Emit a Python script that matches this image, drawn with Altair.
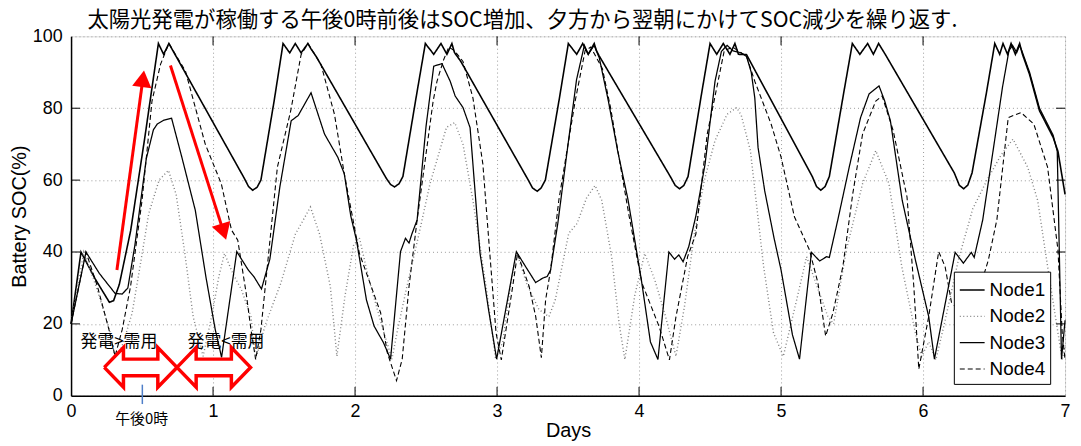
import altair as alt
import pandas as pd

# ---------------- data (day, SOC %) ----------------
NODES = ["Node1", "Node2", "Node3", "Node4"]

node1 = [(0,20),(0.07,40),(0.17,32.5),(0.27,26),(0.30,26.5),(0.34,31),(0.42,46),(0.52,72),(0.615,98),(0.652,95),(0.689,98),
         (1.22,60.5),(1.25,58.2),(1.279,57.2),(1.31,58),(1.337,60),(1.43,82),(1.493,98),(1.54,95.4),(1.579,98),(1.62,95.4),(1.668,98),(1.69,96.5),(1.726,94.4),
         (2.22,60.5),(2.25,58.8),(2.278,58.1),(2.31,59),(2.337,61),(2.43,83),(2.495,98),(2.554,95),(2.605,98),(2.647,95),(2.682,98),(2.70,95.5),(2.745,93),
         (3.22,60),(3.25,57.8),(3.283,56.9),(3.31,57.8),(3.34,60),(3.44,83),(3.502,98),(3.561,95),(3.603,98),(3.642,95),(3.684,98),(3.70,96),(3.72,94.5),
         (4.22,61),(4.255,58.5),(4.285,57.6),(4.315,58.5),(4.345,61),(4.44,84),(4.5,98),(4.547,95),(4.593,98),(4.64,95),(4.675,98),(4.70,95),(4.757,94.9),
         (5.22,61),(5.25,58.2),(5.28,57.2),(5.31,58.2),(5.34,61),(5.44,84),(5.502,98),(5.555,95),(5.61,98),(5.65,95),(5.687,98),(5.735,94.9),
         (6.22,62),(6.255,58.6),(6.286,57.6),(6.315,58.6),(6.345,62),(6.445,84),(6.505,98),(6.54,95),(6.563,98),(6.595,95),(6.62,98),(6.65,95),(6.68,98),(6.70,95),
         (6.75,89.4),(6.82,79.3),(6.916,71.9),(6.95,68),(7.0,56)]

node2 = [(0,20),(0.09,40),(0.18,30),(0.27,18.5),(0.316,9.5),(0.37,15),(0.43,23),(0.49,37),(0.547,50.7),(0.62,60),(0.686,62.7),(0.74,56),(0.80,40),(0.86,22),(0.93,11),
         (0.99,22),(1.04,33),(1.08,39.6),(1.14,34),(1.2,29.5),(1.267,22),(1.30,10.2),(1.37,20),(1.477,31.3),(1.58,45),(1.686,52.5),(1.75,45),(1.826,30.4),(1.872,11),
         (1.93,28),(1.99,42),(2.03,44),(2.1,32),(2.2,18),(2.26,10.2),(2.295,17.5),(2.365,30.4),(2.45,45),(2.528,59),(2.644,74.7),(2.702,76),(2.76,70),(2.83,54.4),(2.923,30.4),(2.99,10.2),
         (3.04,15),(3.10,32),(3.14,39.7),(3.21,31),(3.295,24),(3.365,22),(3.41,26.7),(3.505,45.2),(3.563,47.9),(3.63,55),(3.69,58.5),(3.737,54.4),(3.807,38.7),(3.86,20),(3.9,10.1),
         (3.97,28),(4.04,39.6),(4.11,32.3),(4.18,23),(4.26,11),(4.32,24.9),(4.39,45.2),(4.46,60),(4.535,71),(4.62,78.3),(4.687,80.2),(4.72,78),(4.784,68.2),(4.877,36),(4.947,17.5),(5.016,11),
         (5.11,26.7),(5.18,38.7),(5.27,28.6),(5.33,22),(5.37,20),(5.46,40.6),(5.574,59),(5.667,68.2),(5.76,59),(5.85,36),(5.946,17.5),(5.99,11),
         (6.04,15),(6.09,10),(6.15,20),(6.25,38),(6.35,52),(6.45,60),(6.55,67),(6.633,71.4),(6.737,63.6),(6.807,54.4),(6.877,36),(6.95,17.5),(6.98,10),(7.0,14)]

node3 = [(0,20),(0.105,40),(0.2,34),(0.31,28.5),(0.36,28.3),(0.40,30),(0.45,42),(0.53,66),(0.58,74),(0.607,75.6),(0.654,76.7),(0.708,77.2),(0.78,66.4),(0.875,51.6),(0.95,33),(1.015,18.5),(1.06,10.7),
         (1.167,40.1),(1.248,35),(1.29,33),(1.341,29.7),(1.40,38),(1.47,58),(1.55,76.5),(1.60,78),(1.69,84.3),(1.785,72.8),(1.878,66.4),(1.924,61.8),(1.97,50),(2.01,43.3),(2.08,26.7),(2.134,19.4),(2.2,14.8),(2.25,10.2),
         (2.32,40.1),(2.355,43.8),(2.38,42.5),(2.40,45),(2.437,48.9),(2.50,75),(2.554,91.7),(2.612,92.4),(2.67,87.5),(2.705,83.4),(2.76,80.2),(2.81,74.6),(2.857,50.8),(2.88,39.7),(2.94,24),(2.997,10.2),
         (3.136,40.1),(3.20,36),(3.272,31.5),(3.32,32.7),(3.353,33.2),(3.377,35),(3.428,48),(3.50,70),(3.56,88),(3.615,97.5),(3.642,95),(3.684,97.5),(3.72,94),(3.784,82),(3.85,68),(3.923,54.4),(4.016,32.3),(4.08,15),(4.133,10.1),
         (4.21,40),(4.25,38),(4.28,39.2),(4.31,37.3),(4.35,41.5),(4.40,50),(4.465,64.5),(4.535,87.5),(4.58,95.8),(4.62,97.5),(4.66,96),(4.72,95.4),(4.757,94.4),(4.79,90),(4.815,82.9),(4.838,69.1),(4.885,57),(4.95,44),(5.0,35),(5.08,17),(5.13,10.2),
         (5.214,39.9),(5.272,37.5),(5.32,38.7),(5.34,38.5),(5.40,49),(5.48,63.6),(5.56,77.4),(5.62,84),(5.69,86.2),(5.73,82),(5.77,76.5),(5.853,54.4),(5.946,37.8),(6.04,22),(6.08,10.2),
         (6.226,39.9),(6.284,36.9),(6.34,39.9),(6.36,38.5),(6.42,48.9),(6.50,70),(6.56,86),(6.605,96),(6.63,97.5),(6.66,95.5),(6.68,97.5),(6.70,95.5),(6.75,90),(6.82,80),(6.916,72.5),(6.945,68),(6.975,10.2),(7.0,21)]

node4 = [(0,20),(0.105,40),(0.186,30.4),(0.267,18.4),(0.31,11),(0.36,18.4),(0.419,30.4),(0.5,54.4),(0.57,82),(0.63,92.2),(0.689,98),(0.72,96),(0.806,90.3),(0.945,70),(1.058,59),(1.13,46.1),(1.174,43.3),(1.233,28.6),(1.267,18.4),(1.30,10.1),
         (1.337,18.4),(1.453,63.6),(1.547,79.3),(1.62,94.9),(1.668,98),(1.70,96),(1.76,92.2),(1.855,78.3),(1.924,61.8),(2.03,39.7),(2.18,23.1),(2.227,12),(2.292,4.2),
         (2.332,10.2),(2.38,30.4),(2.437,48.9),(2.55,82),(2.577,87.5),(2.624,93.5),(2.66,97),(2.70,96),(2.76,93),(2.83,82.9),(2.9,64.5),(2.947,40.6),(2.993,17.5),(3.03,10),
         (3.11,30.4),(3.144,39.6),(3.226,30.4),(3.272,22.1),(3.312,10.6),(3.342,26.7),(3.377,35),(3.435,54.4),(3.55,82),(3.62,96),(3.66,97),(3.742,91),(3.80,80),(3.86,66),(3.93,50),(4.02,31.4),(4.14,19.4),(4.214,10),
         (4.26,22),(4.342,38.7),(4.40,45),(4.48,72.8),(4.528,82),(4.6,96),(4.66,97),(4.757,94.4),(4.815,87.5),(4.93,75.6),(5.0,66.4),(5.094,49.8),(5.2,40.6),(5.26,31.3),(5.314,16.6),
         (5.365,23),(5.435,35.9),(5.505,56.2),(5.574,72.8),(5.667,82),(5.712,83.4),(5.79,73.7),(5.887,55.3),(5.935,30.4),(5.97,7.4),
         (6.04,22.1),(6.11,40.1),(6.155,36),(6.2,26),(6.3,22),(6.4,30),(6.46,37.8),(6.52,49),(6.6,77.4),(6.69,78.8),(6.78,75.6),(6.877,63.6),(6.95,40.6),(6.98,17.5),(7.0,10)]

X_TICKS = [0, 1, 2, 3, 4, 5, 6, 7]
Y_TICKS = [0, 20, 40, 60, 80, 100]
INNER_X_TICKS = [1, 2, 3, 4, 5, 6]
INNER_Y_TICKS = [20, 40, 60, 80]

TITLE = "太陽光発電が稼働する午後0時前後はSOC増加、夕方から翌朝にかけてSOC減少を繰り返す."

# annotations (day, SOC)
labels_txt = ["発電>需用", "発電<需用"]
labels_day = [0.337, 1.091]
labels_soc = [14.9, 14.9]
noon_txt = "午後0時"
noon_day, noon_soc = 0.497, -6.6
noon_tick = (0.502, 3.1, -2.3)

# hollow double arrows: [start day, end day]
dbl_arrows = [(0.234, 0.746), (0.746, 1.264)]
dbl_head_len = 0.135
dbl_tip, dbl_head_top, dbl_head_bot, dbl_shaft_top, dbl_shaft_bot = 7.9, 13.4, 2.4, 10.2, 5.6

# red single arrows: start (day, soc), head centre (day, soc), head angle
red_arrows = [((0.323, 35.0), (0.506, 88.2), 7.7),
              ((0.700, 91.9), (1.074, 45.6), 162.3)]

# ---------------- build tables ----------------
rows = []
for name, pts in zip(NODES, [node1, node2, node3, node4]):
    for i, (d, s) in enumerate(pts):
        rows.append({"node": name, "day": d, "soc": s, "i": i})
df = pd.DataFrame(rows)

poly = []
for a, (x0, x1) in enumerate(dbl_arrows):
    b0, b1 = x0 + dbl_head_len, x1 - dbl_head_len
    verts = [(x0, dbl_tip), (b0, dbl_head_top), (b0, dbl_shaft_top), (b1, dbl_shaft_top), (b1, dbl_head_top),
             (x1, dbl_tip), (b1, dbl_head_bot), (b1, dbl_shaft_bot), (b0, dbl_shaft_bot), (b0, dbl_head_bot), (x0, dbl_tip)]
    for k, (d, s) in enumerate(verts):
        poly.append({"arrow": a, "k": k, "day": d, "soc": s})
poly_df = pd.DataFrame(poly)

shaft = []
heads = []
for a, (st, hd, ang) in enumerate(red_arrows):
    shaft.append({"arrow": a, "k": 0, "day": st[0], "soc": st[1]})
    shaft.append({"arrow": a, "k": 1, "day": hd[0], "soc": hd[1]})
    heads.append({"day": hd[0], "soc": hd[1], "ang": ang})
shaft_df = pd.DataFrame(shaft)
heads_df = pd.DataFrame(heads)

W, H = 1001, 362
xs = alt.Scale(domain=[0, 7], nice=False, zero=False)
ys = alt.Scale(domain=[0, 100], nice=False, zero=False)
FONT = "Liberation Sans"
JP = "Noto Sans CJK JP"

xaxis = alt.Axis(values=X_TICKS, format="d", grid=True, gridDash=[1, 3], gridColor="#9a9a9a", gridWidth=1,
                 ticks=False, labelFontSize=18, labelFont=FONT, labelColor="black", labelPadding=7,
                 labelFlush=False, labelOverlap=False, domainColor="black", domainWidth=1.5,
                 title="Days", titleFont=FONT, titleFontSize=20, titleFontWeight="normal", titleColor="black",
                 titleX=W / 2, titleY=41, titleBaseline="alphabetic", titleAlign="center")
yaxis = alt.Axis(values=Y_TICKS, format="d", grid=True, gridDash=[1, 3], gridColor="#9a9a9a", gridWidth=1,
                 ticks=False, labelFontSize=18, labelFont=FONT, labelColor="black", labelPadding=9,
                 labelFlush=False, labelOverlap=False, domainColor="black", domainWidth=1.5,
                 title="Battery SOC(%)", titleFont=FONT, titleFontSize=20, titleFontWeight="normal", titleColor="black",
                 titleX=-46, titleY=H / 2, titleAngle=270, titleAlign="center", titleBaseline="alphabetic")

leg = alt.Legend(title=None, orient="none", legendX=889, legendY=237, fillColor="white", strokeColor="black",
                 padding=5, labelFontSize=19, labelFont=FONT, labelColor="black", symbolType="stroke",
                 symbolSize=625, symbolStrokeWidth=1.3, rowPadding=2.5, labelOffset=4)

lines = alt.Chart(df).mark_line().encode(
    x=alt.X("day:Q", scale=xs, axis=xaxis),
    y=alt.Y("soc:Q", scale=ys, axis=yaxis),
    order="i:Q",
    color=alt.Color("node:N", scale=alt.Scale(domain=NODES, range=["black", "#808080", "black", "black"]), legend=leg),
    strokeDash=alt.StrokeDash("node:N", scale=alt.Scale(domain=NODES, range=[[1, 0], [1, 2.5], [1, 0], [5, 3]]), legend=leg),
    strokeWidth=alt.StrokeWidth("node:N", scale=alt.Scale(domain=NODES, range=[1.6, 1.1, 1.0, 1.0]), legend=None),
)

xt = pd.DataFrame({"day": INNER_X_TICKS})
yt = pd.DataFrame({"soc": INNER_Y_TICKS})
tick_b = alt.Chart(xt).mark_rule(color="black", strokeWidth=1).encode(x="day:Q", y=alt.value(H), y2=alt.value(H - 9))
tick_t = alt.Chart(xt).mark_rule(color="black", strokeWidth=1).encode(x="day:Q", y=alt.value(0), y2=alt.value(9))
tick_l = alt.Chart(yt).mark_rule(color="black", strokeWidth=1).encode(y="soc:Q", x=alt.value(0), x2=alt.value(9))
tick_r = alt.Chart(yt).mark_rule(color="black", strokeWidth=1).encode(y="soc:Q", x=alt.value(W - 9), x2=alt.value(W))

dbl = alt.Chart(poly_df).mark_line(color="red", strokeWidth=3.5, fill="white", strokeJoin="miter").encode(
    x="day:Q", y="soc:Q", detail="arrow:N", order="k:Q")

shafts = alt.Chart(shaft_df).mark_line(color="red", strokeWidth=3).encode(
    x="day:Q", y="soc:Q", detail="arrow:N", order="k:Q")
arrowheads = alt.Chart(heads_df).mark_point(shape="triangle-up", filled=True, color="red", size=380, opacity=1).encode(
    x="day:Q", y="soc:Q", angle=alt.Angle("ang:Q", scale=None))

lab_df = pd.DataFrame({"day": labels_day, "soc": labels_soc, "t": labels_txt})
labs = alt.Chart(lab_df).mark_text(font=JP, fontSize=17, color="black", align="center", baseline="middle").encode(
    x="day:Q", y="soc:Q", text="t:N")

noon_df = pd.DataFrame({"day": [noon_day], "soc": [noon_soc], "t": [noon_txt]})
noon = alt.Chart(noon_df).mark_text(font=JP, fontSize=15, color="black", align="center", baseline="middle").encode(
    x="day:Q", y="soc:Q", text="t:N")
nt_df = pd.DataFrame({"day": [noon_tick[0]], "y1": [noon_tick[1]], "y2": [noon_tick[2]]})
noon_rule = alt.Chart(nt_df).mark_rule(color="#4f7fc8", strokeWidth=1.5).encode(
    x="day:Q", y="y1:Q", y2="y2:Q")

chart = alt.layer(lines, tick_b, tick_t, tick_l, tick_r, dbl, noon_rule, shafts, arrowheads, labs, noon).properties(
    width=W, height=H,
    title=alt.TitleParams(TITLE, font=JP, fontSize=21.5, fontWeight="normal", color="black",
                          anchor="start", frame="group", dx=16.5, dy=9, offset=5),
    padding={"left": 63.5, "top": 27, "right": 8, "bottom": 45},
    autosize=alt.AutoSizeParams(type="none"),
).configure_view(stroke="black", strokeWidth=1.5).configure(background="white")

chart.save("out.html", embed_options={"renderer": "svg", "actions": False})
